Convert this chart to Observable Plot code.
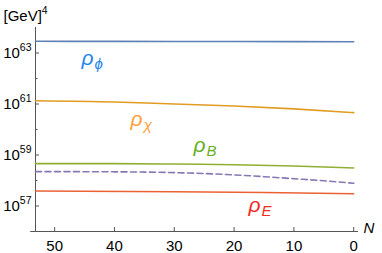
<!DOCTYPE html>
<html>
<head>
<meta charset="utf-8">
<script src="https://cdn.jsdelivr.net/npm/d3@7"></script>
<script src="https://cdn.jsdelivr.net/npm/@observablehq/plot@0.6"></script>
<style>
  html, body { margin: 0; padding: 0; background: #fff; }
</style>
</head>
<body>
<div id="chart"></div>
<script>
// ---- data (exponents of 10, in [GeV]^4) ----
const xTicks = [0, 10, 20, 30, 40, 50];
const yMajorExp = [57, 59, 61, 63];
const yMinorExp = [58, 60, 62];

const nPhi = [53.2, 40, 20, 0];
const ePhi = [63.46, 63.455, 63.45, 63.44];

const nChi = [53.2, 40, 30, 20, 10, 0];
const eChi = [61.13, 61.08, 61.00, 60.92, 60.81, 60.66];

const nB = [53.2, 40, 30, 20, 10, 0];
const eB = [58.66, 58.66, 58.645, 58.62, 58.57, 58.49];

const nDash = [53.2, 40, 30, 20, 15, 10, 5, 0];
const eDash = [58.35, 58.34, 58.31, 58.22, 58.15, 58.07, 57.99, 57.89];

const nE = [53.2, 30, 15, 0];
const eE = [57.59, 57.56, 57.53, 57.48];

const labelText = ["ρ_ϕ", "ρ_χ", "ρ_B", "ρ_E"];
const labelN = [45.5, 37.3, 26.8, 17.6];
const labelExp = [62.52, 60.14, 59.12, 56.76];

const xDomain = [53.2, -0.8];
const yExpDomain = [56, 64];

// ---- build ----
const width = 382, height = 253;
const mL = 35, mR = 24, mT = 27, mB = 22;
const pxPerN = (width - mL - mR) / (xDomain[0] - xDomain[1]);
const pxPerDec = (height - mT - mB) / (yExpDomain[1] - yExpDomain[0]);

const series = (ns, es) => ns.map((n, i) => ({n, v: 10 ** es[i]}));
const labels = labelText.map((t, i) => ({t, n: labelN[i], v: 10 ** labelExp[i]}));
const labelColors = ["#1f86ec", "#ff9f3a", "#66b022", "#f22c1e"];

const axisColor = "#555";
const line = (data, stroke, extra = {}) =>
  Plot.line(data, {x: "n", y: "v", stroke, strokeWidth: 1.6, curve: "monotone-x", ...extra});

const plot = Plot.plot({
  width, height,
  marginLeft: mL, marginRight: mR, marginTop: mT, marginBottom: mB,
  style: {fontFamily: "Liberation Sans, Arial, sans-serif", fontSize: "15px", background: "#fff", color: "#000", overflow: "visible"},
  x: {domain: xDomain},
  y: {type: "log", domain: yExpDomain.map(e => 10 ** e)},
  marks: [
    // axes lines
    Plot.ruleX([xDomain[0]], {y1: 10 ** yExpDomain[0], y2: 10 ** yExpDomain[1], stroke: axisColor, strokeWidth: 1}),
    Plot.ruleY([10 ** yExpDomain[0]], {x1: xDomain[0] + 0.8, x2: xDomain[1], stroke: axisColor, strokeWidth: 1}),
    // y ticks (inside)
    Plot.ruleY(yMajorExp.map(e => 10 ** e), {x1: xDomain[0], x2: xDomain[0] - 4 / pxPerN, stroke: axisColor, strokeWidth: 1}),
    Plot.ruleY(yMinorExp.map(e => 10 ** e), {x1: xDomain[0], x2: xDomain[0] - 2.5 / pxPerN, stroke: axisColor, strokeWidth: 1}),
    // x ticks (inside)
    Plot.ruleX(xTicks, {y1: 10 ** yExpDomain[0], y2: 10 ** (yExpDomain[0] + 4 / pxPerDec), stroke: axisColor, strokeWidth: 1}),
    // axis labels
    Plot.axisX({ticks: xTicks, tickSize: 0, tickPadding: 9, fontSize: 15, tickFormat: d => String(d), label: null}),
    Plot.axisY({ticks: yMajorExp.map(e => 10 ** e), tickSize: 0, tickPadding: 4, fontSize: 15,
      tickFormat: d => "10^" + Math.round(Math.log10(d)), label: null}),
    // curves
    line(series(nPhi, ePhi), "#5e81b5"),
    line(series(nChi, eChi), "#e19c24"),
    line(series(nB, eB), "#8fb032"),
    line(series(nDash, eDash), "#8778b3", {strokeDasharray: "6,3.5"}),
    line(series(nE, eE), "#eb6235"),
    // curve labels
    ...labels.map((d, i) => Plot.text([d], {x: "n", y: "v", text: "t", fill: labelColors[i], fontSize: 21,
      fontStyle: "italic", textAnchor: "start", lineAnchor: "bottom"})),
    // unit and variable labels
    Plot.text(["[GeV]^4"], {frameAnchor: "top-left", dx: -32, dy: -7, textAnchor: "start", lineAnchor: "bottom", fontSize: 15}),
    Plot.text(["N"], {frameAnchor: "bottom-right", dx: 5, dy: 1, textAnchor: "start", lineAnchor: "bottom", fontSize: 15, fontStyle: "italic"})
  ]
});

// rich text: superscripts (^) and subscripts (_)
const NS = "http://www.w3.org/2000/svg";
plot.querySelectorAll("text").forEach(t => {
  const s = t.textContent;
  if (s.includes("^")) {
    const [a, b] = s.split("^");
    t.textContent = a;
    const ts = document.createElementNS(NS, "tspan");
    ts.setAttribute("font-size", "10.5");
    ts.setAttribute("dy", "-7");
    ts.textContent = b;
    t.appendChild(ts);
  } else if (s.includes("_")) {
    const [a, b] = s.split("_");
    t.textContent = a;
    const ts = document.createElementNS(NS, "tspan");
    ts.setAttribute("font-size", "15");
    ts.setAttribute("dy", "4");
    ts.setAttribute("dx", "1");
    ts.textContent = b;
    t.appendChild(ts);
  }
});

document.getElementById("chart").appendChild(plot);
</script>
</body>
</html>
